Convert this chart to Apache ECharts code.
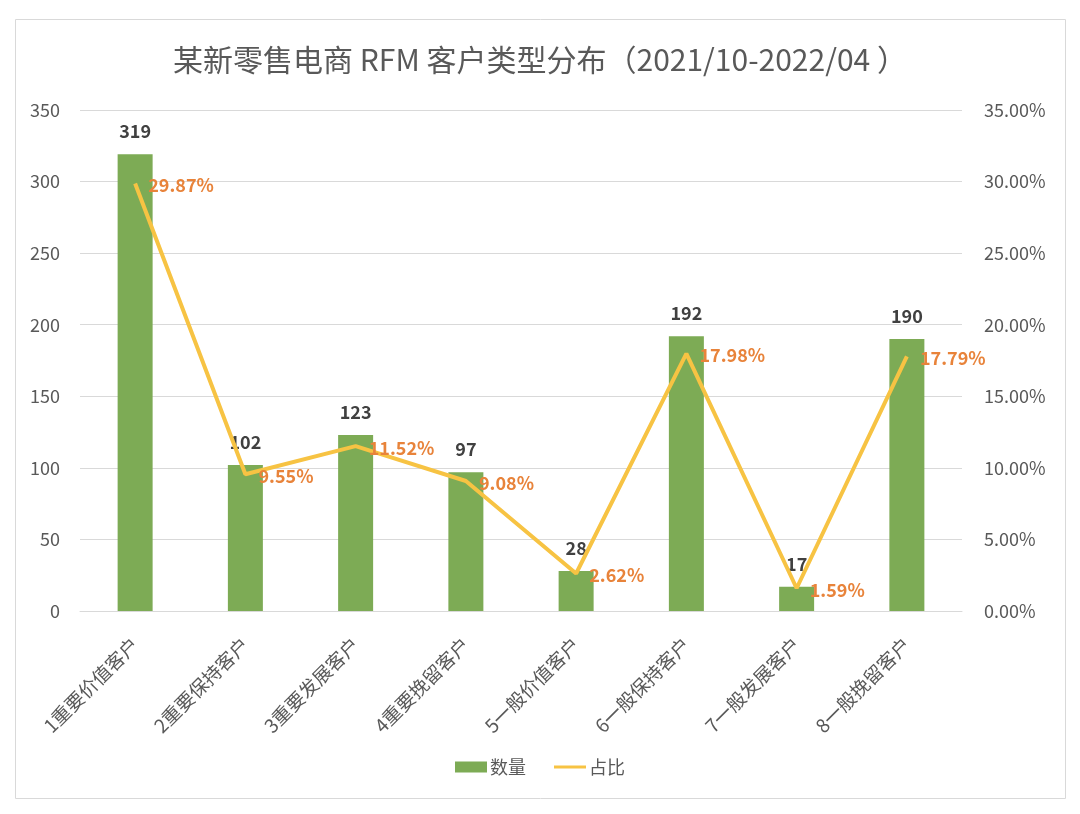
<!DOCTYPE html>
<html><head><meta charset="utf-8">
<script src="https://cdn.jsdelivr.net/npm/echarts@6/dist/echarts.min.js"></script>
<style>html,body{margin:0;padding:0;background:#fff}#c{width:1080px;height:814px}</style>
</head><body><div id="c"></div>
<script>
const categories = ['1重要价值客户','2重要保持客户','3重要发展客户','4重要挽留客户','5一般价值客户','6一般保持客户','7一般发展客户','8一般挽留客户'];
const counts = [319, 102, 123, 97, 28, 192, 17, 190];
const shares = [29.87, 9.55, 11.52, 9.08, 2.62, 17.98, 1.59, 17.79];
const leftTicks = [0, 50, 100, 150, 200, 250, 300, 350];
const rightTicks = [0, 5, 10, 15, 20, 25, 30, 35];

const font = '"Noto Sans CJK SC", "Noto Sans", sans-serif';
const chart = echarts.init(document.getElementById('c'));
chart.setOption({
  textStyle: {fontFamily: font},
  title: {text: '某新零售电商 RFM 客户类型分布（2021/10-2022/04 ）', left: 'center', top: 40,
    textStyle: {fontFamily: font, fontSize: 30, fontWeight: 'normal', color: '#595959'}},
  graphic: [{type: 'rect', shape: {x: 15.5, y: 19.5, width: 1050, height: 779}, style: {fill: 'none', stroke: '#d9d9d9', lineWidth: 1}, z: -1}],
  legend: {bottom: 33, left: 'center', itemGap: 28, itemWidth: 32, itemHeight: 11,
    textStyle: {fontFamily: font, fontSize: 18, color: '#595959', padding: [0, 0, 0, -2]},
    data: [{name: '数量', icon: 'rect'}, {name: '占比', icon: 'path://M0,4 L32,4 L32,7 L0,7 Z', itemStyle: {color: '#f7c343'}}]},
  grid: {left: 80, right: 118, top: 110, bottom: 203},
  xAxis: {type: 'category', data: categories,
    axisLine: {lineStyle: {color: '#d9d9d9'}}, axisTick: {show: false},
    axisLabel: {rotate: 45, fontSize: 19, color: '#595959', margin: 30, fontFamily: font, interval: 0}},
  yAxis: [
    {type: 'value', min: leftTicks[0], max: leftTicks[leftTicks.length - 1], interval: 50,
      axisLabel: {fontSize: 18, color: '#595959', margin: 20, fontFamily: font},
      splitLine: {lineStyle: {color: '#d9d9d9'}}, axisLine: {show: false}, axisTick: {show: false}},
    {type: 'value', min: rightTicks[0], max: rightTicks[rightTicks.length - 1], interval: 5,
      axisLabel: {fontSize: 18, color: '#595959', margin: 22, fontFamily: font, formatter: v => v.toFixed(2) + '%'},
      splitLine: {show: false}, axisLine: {show: false}, axisTick: {show: false}}
  ],
  series: [
    {name: '数量', type: 'bar', data: counts, barWidth: 35, itemStyle: {color: '#7dab55'}, z: 2,
      label: {show: true, position: 'top', distance: 14, fontSize: 18, fontWeight: 'bold', color: '#404040', fontFamily: font}},
    {name: '占比', type: 'line', yAxisIndex: 1, data: shares, symbol: 'circle', symbolSize: 0.1, showSymbol: true, z: 3,
      lineStyle: {color: '#f7c343', width: 4}, itemStyle: {color: '#f7c343'},
      label: {show: true, position: 'right', distance: 13, offset: [0, 2], fontSize: 18, fontWeight: 'bold', color: '#e8833a', fontFamily: font,
        formatter: p => p.value.toFixed(2) + '%'}}
  ]
});
</script></body></html>
